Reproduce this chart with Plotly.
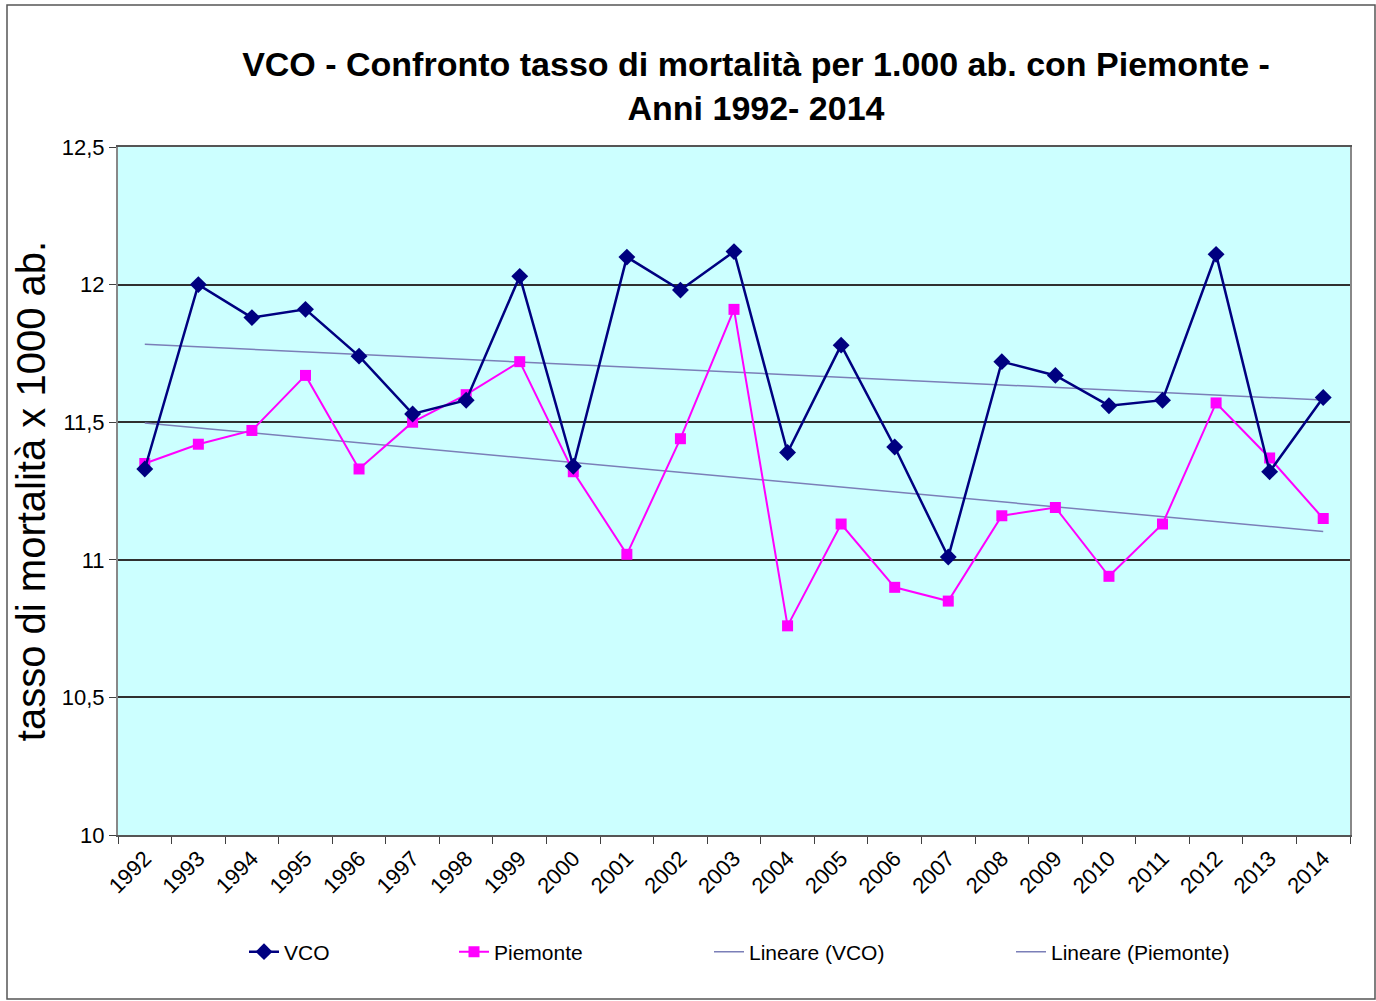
import numpy as np
import plotly.graph_objects as go

years = [str(y) for y in range(1992, 2015)]
vco = [11.33, 12.00, 11.88, 11.91, 11.74, 11.53, 11.58, 12.03, 11.34, 12.10, 11.98, 12.12,
       11.39, 11.78, 11.41, 11.01, 11.72, 11.67, 11.56, 11.58, 12.11, 11.32, 11.59]
piemonte = [11.35, 11.42, 11.47, 11.67, 11.33, 11.50, 11.60, 11.72, 11.32, 11.02, 11.44, 11.91,
            10.76, 11.13, 10.90, 10.85, 11.16, 11.19, 10.94, 11.13, 11.57, 11.37, 11.15]
y_ticks = [10, 10.5, 11, 11.5, 12, 12.5]

idx = np.arange(len(years))
vco_fit = np.polyval(np.polyfit(idx, vco, 1), idx)
pie_fit = np.polyval(np.polyfit(idx, piemonte, 1), idx)

NAVY = "#000080"
MAGENTA = "#FF00FF"
TREND = "#7B7FB8"
FONT = "Liberation Sans Narrow, Arial Narrow, Liberation Sans, Arial, sans-serif"
FONT_R = "Liberation Sans, Arial, sans-serif"

fig = go.Figure()
fig.add_trace(go.Scatter(x=years, y=vco_fit, mode="lines", name="Lineare (VCO)",
                         line=dict(color=TREND, width=1.5), legend="legend3"))
fig.add_trace(go.Scatter(x=years, y=pie_fit, mode="lines", name="Lineare (Piemonte)",
                         line=dict(color=TREND, width=1.5), legend="legend4"))
fig.add_trace(go.Scatter(x=years, y=piemonte, mode="lines+markers", name="Piemonte",
                         line=dict(color=MAGENTA, width=2),
                         marker=dict(symbol="square", size=11, color=MAGENTA), legend="legend2"))
fig.add_trace(go.Scatter(x=years, y=vco, mode="lines+markers", name="VCO",
                         line=dict(color=NAVY, width=2.5),
                         marker=dict(symbol="diamond", size=13, color=NAVY), legend="legend"))

L, R, T, B = 118, 26, 147, 166
W, H = 1376, 1001
pw, ph = W - L - R, H - T - B

def px(xp):
    return (xp - L) / pw

def py(yp):
    return (H - B - yp) / ph

leg_font = dict(family=FONT, size=21, color="black")
leg_y = py(952)
def leg(xp):
    return dict(x=px(xp), y=leg_y, xanchor="left", yanchor="middle", orientation="h",
                font=leg_font, bgcolor="rgba(0,0,0,0)", itemwidth=30)

fig.update_layout(
    width=W, height=H,
    margin=dict(l=L, r=R, t=T, b=B),
    paper_bgcolor="white",
    plot_bgcolor="#CCFFFF",
    separators=",.",
    title=dict(text="VCO - Confronto tasso di mortalità per 1.000 ab. con Piemonte -<br>Anni 1992- 2014",
               xref="container", yref="container",
               x=756 / W, xanchor="center", y=1 - 76 / H, yanchor="middle",
               font=dict(family=FONT, size=34, color="black", weight="bold")),
    legend=leg(244),
    legend2=leg(454),
    legend3=leg(709),
    legend4=leg(1011),
    showlegend=True,
)

fig.update_xaxes(
    type="category", tickson="boundaries", ticks="outside", ticklen=7, tickcolor="#404040",
    tickangle=-45, tickfont=dict(family=FONT_R, size=22, color="black"),
    showline=True, linecolor="#555555", linewidth=2, mirror=True,
    showgrid=False, range=[-0.5, len(years) - 0.5],
)
fig.update_yaxes(
    range=[10, 12.5], tickvals=y_ticks, ticks="outside", ticklen=7, tickcolor="#404040",
    tickfont=dict(family=FONT_R, size=22, color="black"),
    showline=True, linecolor="#888888", linewidth=2, mirror=True,
    showgrid=True, gridcolor="#303030", gridwidth=1.5, zeroline=False,
    title=dict(text="tasso di mortalità x 1000 ab.", font=dict(family=FONT_R, size=40, color="black"),
               standoff=4),
)

fig.add_shape(type="rect", xref="paper", yref="paper",
              x0=px(7), x1=px(1375), y0=py(999), y1=py(5),
              line=dict(color="#555555", width=1.5), fillcolor="rgba(0,0,0,0)", layer="below")

fig.write_html("out.html", config={"displayModeBar": False},
               post_script="document.body.style.margin='0';document.body.style.overflow='hidden';")
